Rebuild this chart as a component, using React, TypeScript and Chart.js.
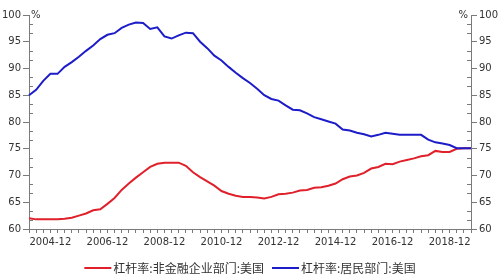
import React, { useEffect, useRef } from "react";
import { Chart, registerables } from "chart.js";

Chart.register(...registerables);

const START_YEAR = 2004;
const QUARTER_MONTHS = ["03", "06", "09", "12"];
const N_POINTS = 63;
const categories: string[] = [];
for (let i = 0; i < N_POINTS; i++) {
  const y = START_YEAR + Math.floor(i / 4);
  categories.push(`${y}-${QUARTER_MONTHS[i % 4]}`);
}
const shownLabels = ["2004-12", "2006-12", "2008-12", "2010-12", "2012-12", "2014-12", "2016-12", "2018-12"];

const corporateName = "杠杆率:非金融企业部门:美国";
const householdName = "杠杆率:居民部门:美国";

const corporate = [
  62.0, 61.8, 61.8, 61.8, 61.8, 61.9, 62.1, 62.5, 62.9, 63.5,
  63.7, 64.7, 65.8, 67.3, 68.5, 69.6, 70.6, 71.6, 72.2, 72.4,
  72.4, 72.4, 71.8, 70.6, 69.7, 68.9, 68.1, 67.1, 66.6, 66.2,
  66.0, 66.0, 65.9, 65.7, 66.0, 66.5, 66.6, 66.8, 67.2, 67.3,
  67.7, 67.8, 68.1, 68.5, 69.3, 69.8, 70.0, 70.5, 71.3, 71.6,
  72.2, 72.1, 72.6, 72.9, 73.2, 73.6, 73.8, 74.6, 74.4, 74.4,
  75.0, 75.1, 75.1,
];

const household = [
  85.0, 86.0, 87.7, 89.0, 89.0, 90.3, 91.2, 92.2, 93.3, 94.3,
  95.5, 96.3, 96.6, 97.6, 98.2, 98.6, 98.5, 97.4, 97.7, 96.0,
  95.6, 96.2, 96.7, 96.6, 95.0, 93.8, 92.4, 91.5, 90.3, 89.2,
  88.2, 87.3, 86.2, 85.0, 84.3, 84.0, 83.1, 82.3, 82.2, 81.6,
  80.9, 80.5, 80.1, 79.7, 78.6, 78.4, 78.0, 77.7, 77.3, 77.6,
  78.0, 77.8, 77.6, 77.6, 77.6, 77.6, 76.7, 76.2, 76.0, 75.7,
  75.1, 75.1, 75.1,
];

const Y_MIN = 60;
const Y_MAX = 100;
const Y_STEP = 5;
const UNIT = "%";

const RED = "#e0202a";
const BLUE = "#1c1cc8";
const AXIS = "#7a7a7a";
const TEXT = "#333333";
const FONT = "'DejaVu Sans', Verdana, sans-serif";
const CJK = "'Noto Sans CJK SC', sans-serif";

const extrasPlugin = {
  id: "extras",
  afterDraw(chart: any) {
    const ctx = chart.ctx;
    const area = chart.chartArea;
    const yl = chart.scales.y;
    const yr = chart.scales.y2;
    ctx.save();
    // minor ticks on y axes (inward)
    ctx.strokeStyle = AXIS;
    ctx.lineWidth = 1;
    for (let v = Y_MIN; v < Y_MAX; v += Y_STEP) {
      for (let k = 1; k <= 2; k++) {
        const val = v + (Y_STEP * k) / 3;
        const py = Math.round(yl.getPixelForValue(val)) + 0.5;
        ctx.beginPath();
        ctx.moveTo(area.left, py);
        ctx.lineTo(area.left + 4, py);
        ctx.stroke();
        const py2 = Math.round(yr.getPixelForValue(val)) + 0.5;
        ctx.beginPath();
        ctx.moveTo(area.right - 4, py2);
        ctx.lineTo(area.right, py2);
        ctx.stroke();
      }
    }
    // unit labels
    ctx.fillStyle = TEXT;
    ctx.font = `10px ${FONT}`;
    ctx.textBaseline = "middle";
    ctx.textAlign = "left";
    ctx.fillText(UNIT, area.left + 2, area.top);
    ctx.textAlign = "right";
    ctx.fillText(UNIT, area.right - 3, area.top);

    // legend
    ctx.font = `12px ${CJK}`;
    const boxW = 27;
    const gapText = 2;
    const gapItems = 8;
    const items = chart.data.datasets.map((d: any) => ({
      label: d.label,
      color: d.borderColor,
      w: boxW + gapText + ctx.measureText(d.label).width,
    }));
    const total = items.reduce((s: number, it: any) => s + it.w, 0) + gapItems * (items.length - 1);
    let x = (chart.width - total) / 2;
    const ly = 268;
    items.forEach((it: any) => {
      ctx.strokeStyle = it.color;
      ctx.lineWidth = 2;
      ctx.beginPath();
      ctx.moveTo(x, ly);
      ctx.lineTo(x + boxW, ly);
      ctx.stroke();
      ctx.fillStyle = TEXT;
      ctx.textAlign = "left";
      ctx.textBaseline = "middle";
      ctx.fillText(it.label, x + boxW + gapText, ly);
      x += it.w + gapItems;
    });
    ctx.restore();
  },
};

export default function App() {
  const ref = useRef<HTMLCanvasElement | null>(null);
  useEffect(() => {
    if (!ref.current) return;
    const chart = new Chart(ref.current, {
      type: "line",
      data: {
        labels: categories,
        datasets: [
          {
            label: corporateName,
            data: corporate,
            borderColor: RED,
            backgroundColor: RED,
            borderWidth: 2,
            pointRadius: 0,
            tension: 0,
            order: 1,
            yAxisID: "y",
          },
          {
            label: householdName,
            data: household,
            borderColor: BLUE,
            backgroundColor: BLUE,
            borderWidth: 2,
            pointRadius: 0,
            tension: 0,
            order: 0,
            yAxisID: "y",
          },
        ],
      },
      options: {
        animation: false,
        responsive: false,
        maintainAspectRatio: false,
        devicePixelRatio: 1,
        layout: { padding: { top: 15, left: 0, right: 0, bottom: 0 } },
        plugins: {
          legend: { display: false },
          tooltip: { enabled: false },
        },
        scales: {
          x: {
            type: "category",
            offset: false,
            grid: {
              display: true,
              drawOnChartArea: false,
              drawTicks: true,
              tickLength: 4,
              color: AXIS,
            },
            border: { display: true, color: AXIS, width: 1 },
            ticks: {
              autoSkip: false,
              maxRotation: 0,
              minRotation: 0,
              padding: 3,
              color: TEXT,
              font: { family: FONT, size: 10 },
              callback: (_v: any, i: number) => (shownLabels.includes(categories[i]) ? categories[i] : ""),
            },
            afterFit: (s: any) => {
              s.height = 49;
            },
          },
          y: {
            type: "linear",
            position: "left",
            min: Y_MIN,
            max: Y_MAX,
            grid: { drawOnChartArea: false, drawTicks: true, tickLength: 6, color: AXIS },
            border: { display: true, color: AXIS, width: 1 },
            ticks: {
              stepSize: Y_STEP,
              padding: 2,
              color: TEXT,
              font: { family: FONT, size: 10 },
            },
            afterFit: (s: any) => {
              s.width = 29;
            },
          },
          y2: {
            type: "linear",
            position: "right",
            min: Y_MIN,
            max: Y_MAX,
            grid: { drawOnChartArea: false, drawTicks: true, tickLength: 6, color: AXIS },
            border: { display: true, color: AXIS, width: 1 },
            ticks: {
              stepSize: Y_STEP,
              padding: 2,
              color: TEXT,
              font: { family: FONT, size: 10 },
            },
            afterFit: (s: any) => {
              s.width = 29;
            },
          },
        },
      },
      plugins: [extrasPlugin],
    });
    return () => chart.destroy();
  }, []);
  return (
    <div style={{ position: "fixed", left: 0, top: 0, width: 500, height: 278, background: "#fff" }}>
      <canvas ref={ref} width={500} height={278} style={{ width: 500, height: 278, display: "block" }} />
    </div>
  );
}
